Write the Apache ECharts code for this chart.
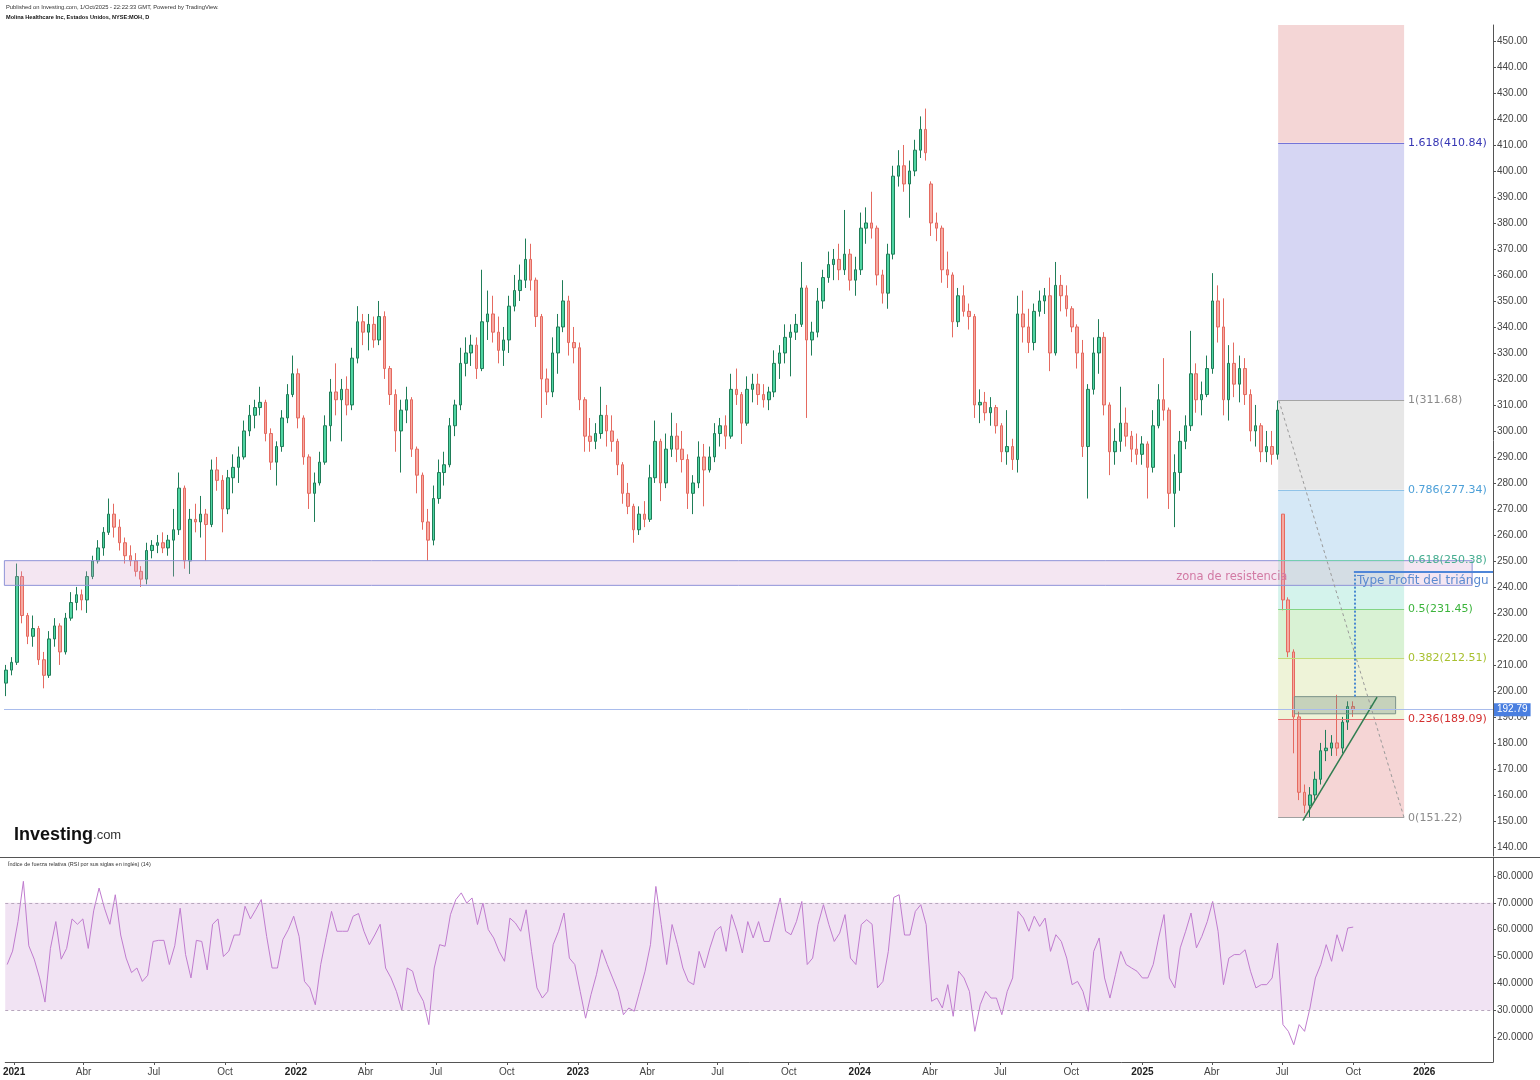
<!DOCTYPE html>
<html><head><meta charset="utf-8">
<script src="https://cdn.jsdelivr.net/npm/echarts@6/dist/echarts.min.js"></script>
<style>html,body{margin:0;padding:0;background:#fff}#c{width:1540px;height:1080px}</style>
</head><body><div id="c"></div>
<script>
// Weekly candles (week of 2020-12-21 .. week of 2025-09-29)
const firstWeekMid = '2020-12-23';
const opens = [
203,208,211,244,229,221,224,212,206,220,
225,215,228,234,237,235,244,250,255,261,
268,263,257,252,250,246,243,254,256,257,
255,258,262,278,250,266,265,268,264,285,
281,270,282,286,290,300,306,309,311,299,
288,294,305,314,322,305,290,276,280,288,
302,315,312,316,310,328,342,338,341,335,
344,324,314,300,308,312,293,283,265,258,
274,284,287,302,310,326,330,333,324,342,
345,338,331,335,348,354,358,366,358,344,
320,315,330,340,350,334,332,312,298,296,
299,306,300,296,287,276,271,262,268,266,
282,296,280,293,298,293,289,276,280,290,
285,290,299,302,298,316,314,303,316,318,
314,312,315,326,330,336,338,341,355,335,
338,350,359,364,366,362,368,358,362,378,
380,378,360,353,368,398,402,395,400,408,
416,395,380,378,362,360,342,352,346,344,
310,311,307,309,302,292,294,289,345,340,
334,346,350,352,330,356,352,347,340,330,
294,316,330,336,310,292,296,303,298,293,
291,295,286,302,312,308,276,284,296,302,
322,312,314,324,350,340,312,326,318,324,
314,300,302,292,294,291,268,235,215,190,
161,156,160,166,177,178,180,178,188,194];
const highs = [
210,213,249,246,230,229,225,215,223,228,
226,230,238,240,239,246,252,258,263,274,
272,266,259,256,253,248,257,258,260,261,
260,270,284,279,270,272,275,270,289,290,
283,285,291,294,304,310,312,317,312,301,
296,308,318,329,324,306,291,284,292,306,
320,326,320,321,332,348,345,345,344,350,
346,325,316,312,317,313,294,284,270,279,
289,292,305,312,332,336,337,336,362,354,
352,344,340,352,360,364,374,372,359,345,
324,336,345,358,352,340,334,313,305,303,
317,310,306,297,288,280,272,271,273,287,
304,297,299,307,303,300,291,283,296,295,
294,303,305,306,322,324,315,321,322,322,
318,317,331,333,341,341,345,365,356,342,
355,362,369,370,372,385,370,367,384,386,
392,379,362,372,402,408,410,404,412,421,
424,396,384,379,369,361,355,356,349,345,
316,315,313,310,303,308,297,352,354,347,
349,354,355,359,365,360,356,348,341,335,
318,336,343,338,311,301,317,309,300,299,
298,296,308,318,328,309,291,300,306,338.5,
326,319,329,360.7,356,351,333,334,329,328,
316,310,303,300,300,311.68,268,236,216,192,
164,163,169,180,185,183,198.5,190,196,196];
const lows = [
198,206,210,226,218,217,210,201,205,217,
210,214,227,231,231,230,243,249,252,260,
259,254,249,248,244,240,241,251,253,253,
252,244,260,247,245,261,259,250,263,277,
261,268,276,280,289,298,301,306,296,285,
279,292,303,313,301,287,270,265,279,287,
296,306,296,306,308,326,333,331,332,333,
320,310,292,284,303,290,276,262,250,256,
272,279,286,298,308,321,325,320,323,335,
334,326,325,330,346,350,355,354,340,305,
310,313,322,338,329,326,308,292,292,293,
297,294,292,283,272,268,257,260,263,265,
280,273,278,290,288,284,270,268,278,271,
284,288,294,293,297,310,295,302,311,310,
309,308,313,320,326,321,335,340,305,329,
336,347,357,358,358,360,354,352,360,372,
374,356,349,347,366,394,392,382,398,405,
404,375,373,357,355,336,340,344,339,305,
303,304,302,299,288,287,285,284,334,330,
331,344,345,323,329,346,344,338,324,290,
274,314,322,306,283,287,292,294,288,287,
287,274,284,301,304,270,263,277,293,300,
307,306,313,322,334,306,304,313,311,310,
296,294,288,288,287,289,231,213,176,158,
153,151.22,158,164,173,175,175,176,185,190];
const closes = [
208,211,244,229,221,224,212,206,220,225,
215,228,234,237,235,244,250,255,261,268,
263,257,252,250,246,243,254,256,257,255,
258,262,278,250,266,265,268,264,285,281,
270,282,286,290,300,306,309,311,299,288,
294,305,314,322,305,290,276,280,288,302,
315,312,316,310,328,342,338,341,335,344,
324,314,300,308,312,293,283,265,258,274,
284,287,302,310,326,330,333,324,342,345,
338,331,335,348,354,358,366,358,344,320,
315,330,340,350,334,332,312,298,296,299,
306,300,296,287,276,271,262,268,266,282,
296,280,293,298,293,289,276,280,290,285,
290,299,302,298,316,314,303,316,318,314,
312,315,326,330,336,338,341,355,335,338,
350,359,364,366,362,368,358,362,378,380,
378,360,353,368,398,402,395,400,408,416,
407,380,378,362,360,342,352,346,344,310,
311,307,309,302,292,294,289,345,340,334,
346,350,352,330,356,352,347,340,330,294,
316,330,336,310,292,296,303,298,293,291,
295,286,302,312,308,276,284,296,302,322,
312,314,324,350,340,312,326,318,324,314,
300,302,292,294,291,308,235,215,190,161,
156,160,166,177,178,180,178,188,194,192.79];
const rsi14 = [
47,52,63,78,54,49,42,33,53,63,
49,53,64,62,64,53,67,75.5,68,62,
73,58,49.4,44,45.7,40.7,43,55.6,56,56,
47,54,68,50.7,42,56,55.6,45,62,64,
50,52,58,58,68.7,64,67.5,71.2,57.5,45.7,
45.7,56.3,60,65,57.5,40.7,38.3,32,47,57,
66.8,59.4,59.4,59.4,65,66,59.4,54.4,58,62,
45.7,42,37,30,45.7,44.5,37,33.3,24.6,45.7,
54.4,53.8,65.6,71.2,73.7,69.9,71.8,61.9,69.9,60,
56.9,51.9,48.2,64.3,62.5,59.4,67.4,51.9,38.3,34.5,
37,54.4,59.4,66.2,49.4,47,37,27,35.8,43.2,
52.5,47,42,37,28.3,30.8,29.6,37,44.5,54.4,
76.1,61.9,47,61.9,54.4,45.7,40.7,39.5,51.9,45.7,
53.2,59.4,61.2,51.9,65.6,59.4,51.3,63,56.9,63,
55.6,55.6,63.7,71.8,59.4,58.1,63,70.5,47,49.4,
61.9,69.3,61.9,55.6,58.7,65.6,49.4,47,61.9,63.7,
62,38.3,40.7,51.9,72,73,58,58,66.8,69.3,
61.9,33.3,34.5,30.8,39.5,27.7,44.5,42,37,22.1,
32,37,34.5,34.5,28.3,37,42,66.8,64.3,59.4,
65,61.2,64.3,51.9,58.1,55.6,49.4,39.5,40.7,37,
29.6,51.9,56.9,42,34.5,43.2,51.9,47,45.7,44.5,
42,42,47,56.9,65.6,42,38.3,53.2,59.4,66.2,
53.2,57.5,63,70.5,59.4,39.5,49.4,50.7,50.7,52.5,
44.5,38.3,39.5,39.5,42,55,24.6,22.1,17.1,24.6,
22.1,30.8,42,47,54.4,48.2,58.1,51.9,60.6,60.9509];

// Fibonacci retracement drawing
const fibRatios = [0, 0.236, 0.382, 0.5, 0.618, 0.786, 1, 1.618];
const fibValues = [151.22, 189.09, 212.51, 231.45, 250.38, 277.34, 311.68, 410.84];
const fibStart = '2025-06-26', fibEnd = '2025-12-06';
// other drawings
const zoneLow = 240.6, zoneHigh = 250.1, zoneStart = '2020-12-21', zoneEnd = '2026-03-04';
const boxLow = 191.2, boxHigh = 197.8, boxStart = '2025-07-17', boxEnd = '2025-11-25';
const triStart = ['2025-07-28', 150.1], triEnd = ['2025-11-01', 197.6];
const targetPrice = 245.79, targetStart = '2025-10-02';
const lastPrice = 192.79, lastRsi = 60.9509;
const monthsEs = ['Ene','Feb','Mar','Abr','May','Jun','Jul','Ago','Sep','Oct','Nov','Dic'];

const DAY = 864e5;
const T = s => Date.parse(s.length === 10 ? s + 'T00:00:00Z' : s);
const t0 = T(firstWeekMid);
const times = closes.map((_, i) => t0 + i * 7 * DAY);
const xMin = Date.UTC(2020, 11, 20, 12), xMax = Date.UTC(2026, 2, 31);
const panelTop = 456.15;

const candles = times.map((t, i) => [t, opens[i], closes[i], lows[i], highs[i]]);
const rsiData = times.map((t, i) => [t, rsi14[i]]);

const fibFill = ['#f5d5d5','#eef3d8','#d9f2d4','#d4f3ec','#d5e8f6','#e7e7e7','#d6d6f3','#f4d6d6'];
const fibLineCol = ['#a0a0a0','#e57373','#c5dc7a','#84d484','#74cdb0','#8fc3e8','#a5a5a5','#7474d8'];
const fibTextCol = ['#8a8a8a','#d32f2f','#a8c030','#3cb43c','#45ad90','#4da0d8','#8a8a8a','#3636b4'];

const fibAreas = fibValues.map((v, i) => [
  {coord: [T(fibStart), v], itemStyle: {color: fibFill[i]}},
  {coord: [T(fibEnd), i < fibValues.length - 1 ? fibValues[i + 1] : panelTop]}
]);
const fibLines = fibValues.map((v, i) => [
  {coord: [T(fibStart), v], lineStyle: {color: fibLineCol[i], width: 1, type: 'solid'},
   label: {show: true, position: 'end', distance: 4, formatter: fibRatios[i] + '(' + v.toFixed(2) + ')',
           color: fibTextCol[i], fontSize: 11, fontFamily: 'DejaVu Sans'}},
  {coord: [T(fibEnd), v]}
]);

const option = {
  animation: false,
  useUTC: true,
  backgroundColor: '#ffffff',
  textStyle: {fontFamily: 'Liberation Sans'},
  grid: [
    {left: 4, right: 47, top: 25, bottom: 224},
    {left: 4, right: 47, top: 858, bottom: 18}
  ],
  xAxis: [
    {type: 'time', gridIndex: 0, min: xMin, max: xMax, show: false},
    {type: 'time', gridIndex: 1, min: xMin, max: xMax, splitNumber: 21,
     minInterval: 91 * DAY, maxInterval: 92 * DAY,
     axisLine: {show: true, lineStyle: {color: '#555'}},
     axisTick: {show: true, length: 3, lineStyle: {color: '#555'}},
     splitLine: {show: false},
     axisLabel: {color: '#444', fontSize: 10, margin: 5, showMinLabel: false, showMaxLabel: false,
       formatter: function (v) { const d = new Date(v); const m = d.getUTCMonth();
         return m === 0 ? '{y|' + d.getUTCFullYear() + '}' : monthsEs[m]; },
       rich: {y: {fontWeight: 'bold', color: '#222', fontSize: 10}}}}
  ],
  yAxis: [
    {type: 'value', gridIndex: 0, position: 'right', min: 136.5, max: panelTop, splitNumber: 32,
     axisLine: {show: true, lineStyle: {color: '#555'}},
     axisTick: {show: true, length: 3, lineStyle: {color: '#555'}},
     splitLine: {show: false},
     axisLabel: {color: '#444', fontSize: 10, margin: 4, showMinLabel: false, showMaxLabel: false,
                 formatter: v => v.toFixed(2)}},
    {type: 'value', gridIndex: 1, position: 'right', min: 10.67, max: 86.7, splitNumber: 8,
     axisLine: {show: true, lineStyle: {color: '#555'}},
     axisTick: {show: true, length: 3, lineStyle: {color: '#555'}},
     splitLine: {show: false},
     axisLabel: {color: '#444', fontSize: 10, margin: 4, showMinLabel: false, showMaxLabel: false,
                 formatter: v => v.toFixed(4)}}
  ],
  series: [
    { // fibonacci zones (behind candles)
      type: 'line', xAxisIndex: 0, yAxisIndex: 0, data: [], z: 1, silent: true,
      markArea: {silent: true, z: 1, data: fibAreas}
    },
    {
      type: 'candlestick', name: 'MOH', xAxisIndex: 0, yAxisIndex: 0, z: 3,
      data: candles, barWidth: 3,
      itemStyle: {color: '#4fd4a2', color0: '#f6aaa2', borderColor: '#1f7d58', borderColor0: '#e56a60', borderWidth: 1}
    },
    { // drawings on top
      type: 'line', xAxisIndex: 0, yAxisIndex: 0, data: [], z: 5, silent: true,
      markArea: {silent: true, z: 5, data: [
        [{coord: [T(zoneStart), zoneHigh], itemStyle: {color: 'rgba(214,160,204,0.26)', borderColor: '#8f93d8', borderWidth: 1}},
         {coord: [T(zoneEnd), zoneLow]}],
        [{coord: [T(boxStart), boxHigh], itemStyle: {color: 'rgba(105,135,120,0.30)', borderColor: '#7c938b', borderWidth: 1}},
         {coord: [T(boxEnd), boxLow]}]
      ]},
      markPoint: {silent: true, symbol: 'circle', symbolSize: 1, itemStyle: {color: 'rgba(0,0,0,0)'},
        data: [{coord: [T('2025-04-27'), 243.8], label: {show: true, position: 'inside', formatter: 'zona de resistencia',
                color: '#d27aa4', fontSize: 11.5, fontFamily: 'DejaVu Sans'}}]},
      markLine: {silent: true, symbol: ['none', 'none'], z: 6, label: {show: false},
        data: fibLines.concat([
          [{coord: [T('2025-06-27'), fibValues[6]], lineStyle: {color: '#9a9a9a', width: 1, type: [3, 3]}},
           {coord: [T(fibEnd), fibValues[0]]}],
          [{coord: [T(triStart[0]), triStart[1]], lineStyle: {color: '#2f7d50', width: 1.5, type: 'solid'}},
           {coord: [T(triEnd[0]), triEnd[1]]}],
          [{coord: [T('2025-10-03'), boxHigh], lineStyle: {color: '#4a8ad0', width: 2, type: 'dotted'}},
           {coord: [T('2025-10-03'), targetPrice - 0.8]}],
          [{coord: [T(targetStart), targetPrice], lineStyle: {color: '#4f86d8', width: 2, type: 'solid'},
            label: {show: true, position: 'insideStartBottom', distance: 3, formatter: 'Type Profit del triángu',
                    color: '#5a8ad0', fontSize: 12, fontFamily: 'DejaVu Sans'}},
           {coord: [xMax, targetPrice]}],
          {yAxis: targetPrice, lineStyle: {opacity: 0}, label: {show: true, position: 'end', distance: 1, formatter: targetPrice.toFixed(2),
            color: '#fff', backgroundColor: '#3f7ad8', padding: [2, 3, 1, 3], fontSize: 10}},
          {yAxis: lastPrice, lineStyle: {color: '#a9bcec', width: 1, type: 'solid'}, label: {show: true, position: 'end', distance: 1,
            formatter: lastPrice.toFixed(2), color: '#fff', backgroundColor: '#4a7fe0', padding: [2, 3, 1, 3], fontSize: 10}}
        ])}
    },
    {
      type: 'line', name: 'RSI', xAxisIndex: 1, yAxisIndex: 1, data: rsiData, showSymbol: false, z: 3,
      lineStyle: {color: '#c07ccf', width: 1},
      markArea: {silent: true, z: 1, itemStyle: {color: '#f1e3f3'}, data: [[{yAxis: 30}, {yAxis: 70}]]},
      markLine: {silent: true, symbol: ['none', 'none'], label: {show: false},
        data: [
          {yAxis: 70, lineStyle: {color: '#b7a6bd', width: 1, type: [3, 3]}},
          {yAxis: 30, lineStyle: {color: '#b7a6bd', width: 1, type: [3, 3]}},
          {yAxis: lastRsi, lineStyle: {opacity: 0}, label: {show: true, position: 'end', distance: 1, formatter: lastRsi.toFixed(4),
            color: '#fff', backgroundColor: '#8e1d8e', padding: [2, 3, 1, 3], fontSize: 10}}
        ]}
    }
  ],
  graphic: [
    {type: 'text', left: 6, top: 4, silent: true, style: {text: 'Published on Investing.com, 1/Oct/2025 - 22:22:33 GMT, Powered by TradingView.', fontSize: 5.8, fill: '#333', fontFamily: 'Liberation Sans'}},
    {type: 'text', left: 6, top: 14, silent: true, style: {text: 'Molina Healthcare Inc, Estados Unidos, NYSE:MOH, D', fontSize: 5.6, fontWeight: 'bold', fill: '#111', fontFamily: 'Liberation Sans'}},
    {type: 'text', left: 14, top: 826, silent: true, style: {text: '{a|Investing}{b|.com}', fontFamily: 'Liberation Sans',
      rich: {a: {fontSize: 18, fontWeight: 'bold', fill: '#111', fontFamily: 'Liberation Sans'}, b: {fontSize: 13, fill: '#333', fontFamily: 'Liberation Sans'}}}},
    {type: 'text', left: 8, top: 861, silent: true, style: {text: 'Índice de fuerza relativa (RSI por sus siglas en inglés) (14)', fontSize: 5.5, fill: '#333', fontFamily: 'Liberation Sans'}},
    {type: 'line', silent: true, shape: {x1: 0, y1: 857.5, x2: 1540, y2: 857.5}, style: {stroke: '#555', lineWidth: 1}}
  ]
};
const chart = echarts.init(document.getElementById('c'), null, {renderer: 'canvas', width: 1540, height: 1080});
chart.setOption(option);
</script>
</body></html>
